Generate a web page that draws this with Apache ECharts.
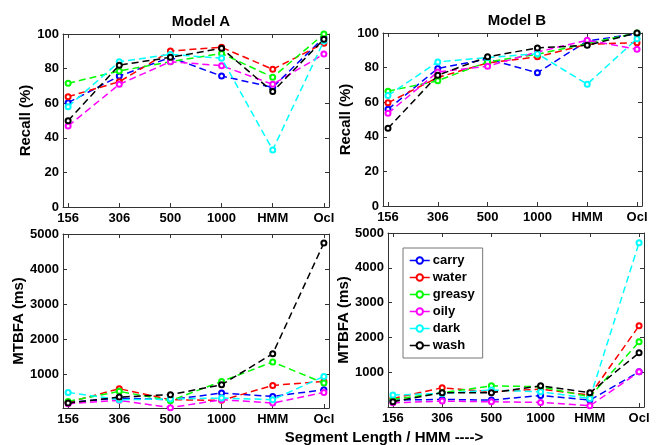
<!DOCTYPE html>
<html>
<head>
<meta charset="utf-8">
<script src="https://cdn.jsdelivr.net/npm/echarts@6/dist/echarts.min.js"></script>
<style>
  html, body { margin: 0; padding: 0; background: #fff; }
  #main { width: 657px; height: 445px; }
</style>
</head>
<body>
<div id="main"></div>
<script>
var categories = ['156', '306', '500', '1000', 'HMM', 'Ocl'];
var seriesNames = ['carry', 'water', 'greasy', 'oily', 'dark', 'wash'];
var seriesColors = ['#0000ff', '#ff0000', '#00ff00', '#ff00ff', '#00ffff', '#000000'];

// Model A recall (%), one row per series
var recallA = [
  [60.3, 75.7, 86.5, 75.7, 69.2, 98],
  [63.8, 72.4, 90.2, 92.3, 79.6, 94.6],
  [71.5, 78.6, 84, 88.8, 75, 100],
  [46.8, 70.9, 84, 81.7, 70.9, 88.4],
  [58, 84, 88.2, 86, 33, 96],
  [49.9, 82, 86.5, 91.7, 66.7, 97]
];
// Model B recall (%)
var recallB = [
  [55.9, 79.5, 85, 77, 95.4, 99.6],
  [59.7, 74.3, 82.7, 86.2, 93.5, 94.4],
  [66.4, 72.4, 83.3, 87.7, 93.9, 100],
  [53.6, 77.5, 80.8, 89, 95.8, 90.6],
  [63.9, 83.3, 85.8, 88, 70.4, 96.7],
  [44.9, 75.6, 86.2, 91.4, 92.9, 100]
];
// Model A MTBFA (ms)
var mtbfaA = [
  [190, 314, 267, 457, 362, 552],
  [190, 581, 267, 248, 676, 790],
  [219, 505, 238, 790, 1343, 743],
  [152, 248, 40, 267, 171, 476],
  [476, 267, 286, 314, 267, 933],
  [171, 343, 410, 695, 1581, 4743]
];
// Model B MTBFA (ms)
var mtbfaB = [
  [208, 227, 208, 341, 208, 1019],
  [255, 561, 446, 523, 351, 2337],
  [227, 418, 618, 590, 303, 1878],
  [131, 179, 160, 141, 45, 1019],
  [351, 399, 494, 446, 255, 4723],
  [160, 418, 418, 618, 418, 1563]
];

var recallTicks = [0, 20, 40, 60, 80, 100];
var mtbfaTicks = [1000, 2000, 3000, 4000, 5000];

var chart = echarts.init(document.getElementById('main'), null, { renderer: 'canvas' });

var FONT = 'Liberation Sans';
var axisColor = '#333';
var catIdx = [1, 2, 3, 4, 5, 6];

var panels = [
  { grid: { left: 63, top: 34, width: 266, height: 173 }, data: recallA, min: 0, max: 100, ticks: recallTicks, name: 'Recall (%)', gap: 30 },
  { grid: { left: 383, top: 33, width: 259, height: 173 }, data: recallB, min: 0, max: 100, ticks: recallTicks, name: 'Recall (%)', gap: 30 },
  { grid: { left: 63, top: 234, width: 266, height: 174 }, data: mtbfaA, min: 30, max: 5000, ticks: mtbfaTicks, name: 'MTBFA (ms)', gap: 37 },
  { grid: { left: 388, top: 233, width: 256, height: 174 }, data: mtbfaB, min: 10, max: 5000, ticks: mtbfaTicks, name: 'MTBFA (ms)', gap: 37 }
];

var grids = [], xAxes = [], yAxes = [], series = [];

panels.forEach(function (p, gi) {
  grids.push(p.grid);
  // bottom x axis with labels
  xAxes.push({
    type: 'value', gridIndex: gi, position: 'bottom', min: 0.9, max: 6.1,
    axisLine: { show: true, onZero: false, lineStyle: { color: axisColor } },
    axisTick: { show: true, inside: true, length: 4, customValues: catIdx, lineStyle: { color: axisColor } },
    axisLabel: {
      show: true, customValues: catIdx, margin: 5,
      color: '#000', fontFamily: FONT, fontWeight: 'bold', fontSize: 13,
      formatter: function (v) { return categories[Math.round(v) - 1]; }
    },
    splitLine: { show: false }
  });
  // top x axis (box + ticks)
  xAxes.push({
    type: 'value', gridIndex: gi, position: 'top', min: 0.9, max: 6.1,
    axisLine: { show: true, onZero: false, lineStyle: { color: axisColor } },
    axisTick: { show: true, inside: true, length: 4, customValues: catIdx, lineStyle: { color: axisColor } },
    axisLabel: { show: false },
    splitLine: { show: false }
  });
  yAxes.push({
    type: 'value', gridIndex: gi, position: 'left', min: p.min, max: p.max,
    name: p.name, nameLocation: 'middle', nameGap: p.gap,
    nameTextStyle: { color: '#000', fontFamily: FONT, fontWeight: 'bold', fontSize: 15 },
    axisLine: { show: true, onZero: false, lineStyle: { color: axisColor } },
    axisTick: { show: true, inside: true, length: 4, customValues: p.ticks, lineStyle: { color: axisColor } },
    axisLabel: {
      show: true, customValues: p.ticks, margin: 4,
      color: '#000', fontFamily: FONT, fontWeight: 'bold', fontSize: 13,
      formatter: function (v) { return String(Math.round(v)); }
    },
    splitLine: { show: false }
  });
  yAxes.push({
    type: 'value', gridIndex: gi, position: 'right', min: p.min, max: p.max,
    axisLine: { show: true, onZero: false, lineStyle: { color: axisColor } },
    axisTick: { show: true, inside: true, length: 4, customValues: p.ticks, lineStyle: { color: axisColor } },
    axisLabel: { show: false },
    splitLine: { show: false }
  });

  p.data.forEach(function (row, si) {
    series.push({
      name: seriesNames[si],
      type: 'line',
      xAxisIndex: gi * 2,
      yAxisIndex: gi * 2,
      data: row.map(function (v, i) { return [i + 1, v]; }),
      symbol: 'emptyCircle',
      symbolSize: 5,
      showAllSymbol: true,
      clip: true,
      color: seriesColors[si],
      itemStyle: { color: seriesColors[si], borderWidth: 1 },
      lineStyle: { color: seriesColors[si], width: 1.5, type: [7, 4] },
      emphasis: { disabled: true },
      z: 2 + si
    });
  });
});

var option = {
  animation: false,
  backgroundColor: '#fff',
  title: [
    { text: 'Model A', left: 196, top: 9, textAlign: 'center',
      textStyle: { fontFamily: FONT, fontWeight: 'bold', fontSize: 15, color: '#000' } },
    { text: 'Model B', left: 512, top: 8, textAlign: 'center',
      textStyle: { fontFamily: FONT, fontWeight: 'bold', fontSize: 15, color: '#000' } },
    { text: 'Segment Length / HMM ---->', left: 379, top: 425, textAlign: 'center',
      textStyle: { fontFamily: FONT, fontWeight: 'bold', fontSize: 15, color: '#000' } }
  ],
  legend: {
    data: seriesNames,
    orient: 'vertical',
    left: 403, top: 248,
    padding: [6, 8, 6, 6],
    itemWidth: 20, itemHeight: 8, itemGap: 4,
    backgroundColor: '#fff',
    borderColor: '#777', borderWidth: 1,
    selectedMode: false,
    lineStyle: { type: 'solid', width: 1.5 },
    textStyle: { fontFamily: FONT, fontWeight: 'bold', fontSize: 13, color: '#000', padding: [0, 0, 0, -2] }
  },
  grid: grids,
  xAxis: xAxes,
  yAxis: yAxes,
  series: series
};

chart.setOption(option);
</script>
</body>
</html>
